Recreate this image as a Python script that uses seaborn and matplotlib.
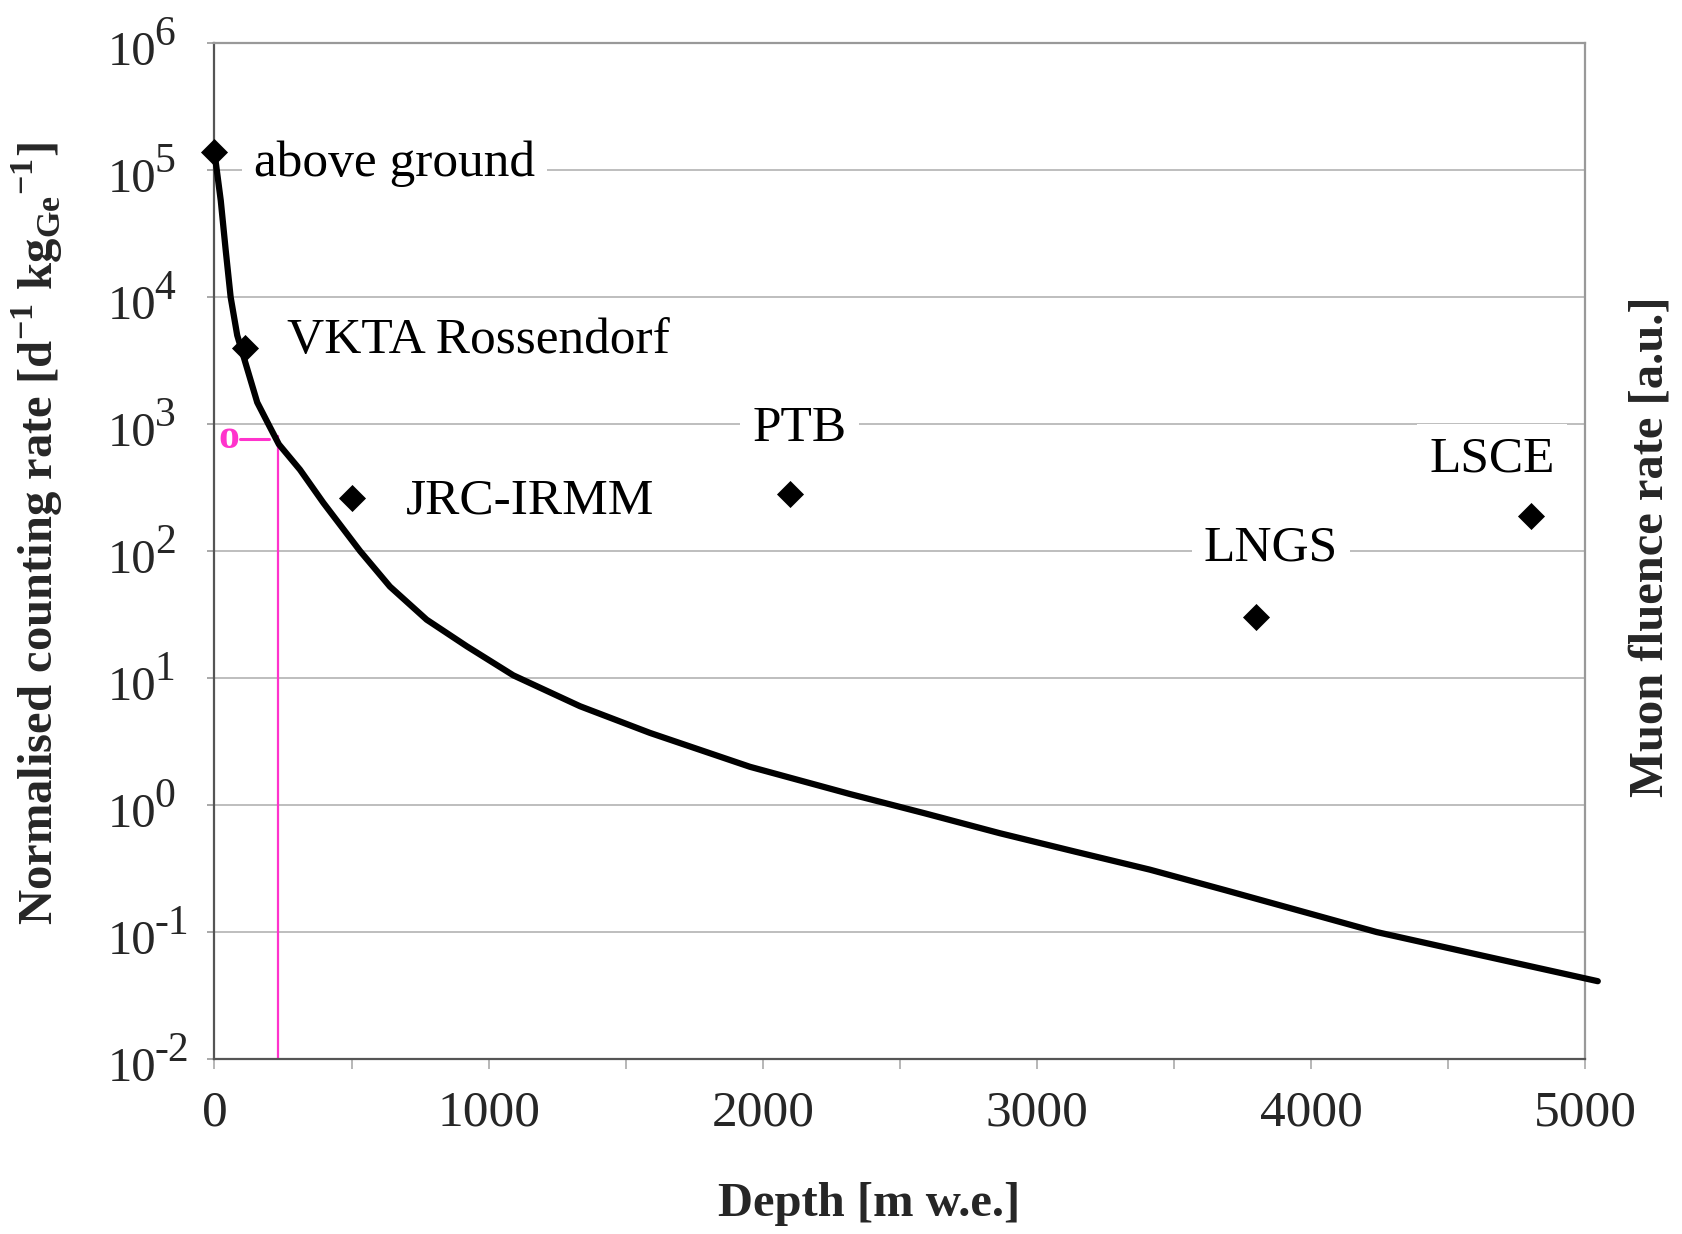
import numpy as np
import pandas as pd
import seaborn as sns
import matplotlib.pyplot as plt

# curve
depth_curve = [0, 23, 41, 59, 83, 120, 156, 199, 235, 312, 397, 531, 640, 774, 920,
               1090, 1333, 1588, 1953, 2318, 2591, 2864, 3138, 3411, 3685, 3958,
               4238, 4627, 5045]
rate_curve = [1.38e5, 5.75e4, 2.34e4, 1.0e4, 5.0e3, 2.7e3, 1.48e3, 977, 692, 437,
              240, 100, 52.5, 28.8, 17.8, 10.5, 6.0, 3.7, 2.0, 1.22, 0.86, 0.60,
              0.43, 0.31, 0.214, 0.147, 0.100, 0.065, 0.041]

# laboratories
site_names = ['above ground', 'VKTA Rossendorf', 'JRC-IRMM', 'PTB', 'LNGS', 'LSCE']
site_depth = [0, 110, 500, 2100, 3800, 4800]
site_rate = [1.4e5, 4.0e3, 260, 280, 30, 190]

# where the names sit (data coords) and how they are aligned
label_x = [144, 266, 697, 2134, 3853, 4659]
label_y = [1.12e5, 4.5e3, 245, 912, 105, 525]
label_ha = ['left', 'left', 'left', 'center', 'center', 'center']

# pink cut-off marker
cut_depth = 230
cut_rate = 760

y_ticks = [1e-2, 1e-1, 1e0, 1e1, 1e2, 1e3, 1e4, 1e5, 1e6]
y_exponents = ['-2', '-1', '0', '1', '2', '3', '4', '5', '6']
x_ticks = [0, 1000, 2000, 3000, 4000, 5000]

curve = pd.DataFrame({'depth': depth_curve, 'rate': rate_curve})
sites = pd.DataFrame({'depth': site_depth, 'rate': site_rate, 'name': site_names})

sns.set_theme(style='white')
plt.rcParams['font.family'] = ['Liberation Serif', 'DejaVu Serif']
plt.rcParams['mathtext.fontset'] = 'custom'
plt.rcParams['mathtext.rm'] = 'Liberation Serif'
plt.rcParams['mathtext.bf'] = 'Liberation Serif:bold'

fig = plt.figure(figsize=(16.82, 12.34), dpi=100)
ax = fig.add_axes([0.1275, 0.1418, 0.8151, 0.8233])

ax.set_yscale('log')
ax.set_xlim(0, 5000)
ax.set_ylim(1e-2, 1e6)

sns.lineplot(data=curve, x='depth', y='rate', ax=ax, color='black',
             linewidth=4.5, sort=False, zorder=4)
for ln in ax.lines:
    ln.set_clip_on(False)

sns.scatterplot(data=sites, x='depth', y='rate', ax=ax, marker='D', s=190,
                color='black', linewidth=0, zorder=5, clip_on=False)

for name, lx, ly, ha in zip(site_names, label_x, label_y, label_ha):
    ax.text(lx, ly, name, ha=ha, va='center', fontsize=37, color='black',
            zorder=3, bbox=dict(facecolor='white', edgecolor='none', pad=9))

pink = '#ff33cc'
ax.plot([cut_depth, cut_depth], [1e-2, cut_rate * 1.05], color=pink, lw=1.6, zorder=2)
ax.plot([93, 199], [cut_rate, cut_rate], color=pink, lw=2.2, zorder=2)
ax.text(53, cut_rate * 1.02, 'o', color=pink, fontsize=30, fontweight='bold',
        ha='center', va='center', zorder=2)

# y tick labels: "10" with a large superscript, as in the original
ax.set_yticks(y_ticks)
ax.set_yticklabels([])
ax.yaxis.set_minor_locator(plt.NullLocator())
ytrans = ax.get_yaxis_transform()
for val, ex in zip(y_ticks, y_exponents):
    ax.annotate('10', xy=(0, val), xycoords=ytrans, xytext=(-76.5, -15.5),
                textcoords='offset points', ha='left', va='baseline',
                fontsize=35, annotation_clip=False)
    ax.annotate(ex, xy=(0, val), xycoords=ytrans, xytext=(-43, -1.5),
                textcoords='offset points', ha='left', va='baseline',
                fontsize=30, annotation_clip=False)

ax.set_xticks(x_ticks)
ax.set_xticks([500, 1500, 2500, 3500, 4500], minor=True)

ax.grid(axis='y', color='#b3b3b3', linewidth=1.2, zorder=0)
ax.set_axisbelow(True)

ax.tick_params(axis='y', which='major', direction='out', length=5, width=1.2,
               color='#999999', left=True)
ax.tick_params(axis='x', which='both', direction='out', length=7, width=1.2,
               color='#aaaaaa', labelsize=37, pad=15, bottom=True)

for side in ['left', 'bottom']:
    ax.spines[side].set_color('#555555')
    ax.spines[side].set_linewidth(1.6)
for side in ['top', 'right']:
    ax.spines[side].set_color('#999999')
    ax.spines[side].set_linewidth(1.6)

ax.set_xlabel('')
ax.set_ylabel('')
fig.text(0.5166, 0.0243, 'Depth [m w.e.]', ha='center', va='center',
         fontsize=35, fontweight='bold')
fig.text(0.0223, 0.5675,
         r'Normalised counting rate [d$^{\mathbf{-1}}$ kg$_{\mathbf{Ge}}$$^{\mathbf{-1}}$]',
         ha='center', va='center', rotation=90, fontsize=35, fontweight='bold')
fig.text(0.981, 0.5567, 'Muon fluence rate [a.u.]', ha='center', va='center',
         rotation=90, fontsize=35, fontweight='bold')

fig.savefig('out.png', dpi=100)
plt.close(fig)
